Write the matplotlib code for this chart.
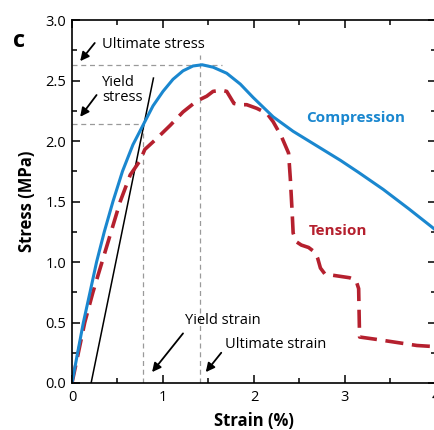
import matplotlib
matplotlib.use("Agg")
import matplotlib.pyplot as plt
from matplotlib.ticker import MultipleLocator

plt.rcParams['font.family'] = ['Open Sans', 'DejaVu Sans']

# Data
comp_strain = [0, 0.062, 0.125, 0.198, 0.27, 0.355, 0.45, 0.555, 0.67, 0.78, 0.89,
               1.0, 1.11, 1.22, 1.33, 1.43, 1.55, 1.70, 1.85, 1.99, 2.10, 2.21,
               2.32, 2.43, 2.56, 2.69, 2.82, 2.95, 3.15, 3.42, 3.70, 3.97, 4.0]
comp_stress = [0, 0.25, 0.5, 0.75, 1.0, 1.25, 1.5, 1.75, 1.97, 2.13, 2.29,
               2.41, 2.51, 2.58, 2.62, 2.63, 2.61, 2.56, 2.47, 2.36, 2.28, 2.20,
               2.14, 2.08, 2.02, 1.96, 1.90, 1.84, 1.74, 1.60, 1.44, 1.28, 1.26]

tens_strain = [0, 0.07, 0.14, 0.23, 0.33, 0.43, 0.53, 0.64, 0.75, 0.80, 0.93,
               1.08, 1.22, 1.37, 1.48, 1.55, 1.64, 1.70, 1.74, 1.78, 1.85, 1.92,
               2.03, 2.14, 2.21, 2.30, 2.38, 2.40, 2.42, 2.43, 2.46, 2.52, 2.60,
               2.67, 2.70, 2.73, 2.78, 2.87, 3.05, 3.12, 3.15, 3.16, 3.35, 3.79, 4.0]
tens_stress = [0, 0.25, 0.5, 0.75, 1.0, 1.25, 1.5, 1.72, 1.84, 1.93, 2.02,
               2.13, 2.24, 2.33, 2.37, 2.41, 2.42, 2.41, 2.36, 2.31, 2.30, 2.30,
               2.27, 2.23, 2.16, 2.04, 1.90, 1.68, 1.40, 1.24, 1.17, 1.14, 1.12,
               1.08, 1.03, 0.95, 0.90, 0.89, 0.87, 0.85, 0.78, 0.38, 0.36, 0.31, 0.30]

offset_strain = [0.21, 0.895]
offset_stress = [0.0, 2.52]

yield_strain = 0.78
yield_stress = 2.14
ult_strain = 1.41
ult_stress = 2.63

blue = '#1a87cf'
red = '#b5202e'

fig = plt.figure(figsize=(4.35, 4.30), dpi=100)
ax = fig.add_axes([72/435, 47/430, 364/435, 363/430])

# guide lines
gcol = '#9a9a9a'
ax.plot([0, yield_strain], [yield_stress, yield_stress], ls=(0, (4, 3)), color=gcol, lw=0.9)
ax.plot([yield_strain, yield_strain], [0, yield_stress], ls=(0, (4, 3)), color=gcol, lw=0.9)
ax.plot([0, 1.65], [ult_stress, ult_stress], ls=(0, (4, 3)), color=gcol, lw=0.9)
ax.plot([ult_strain, ult_strain], [0, 2.71], ls=(0, (4, 3)), color=gcol, lw=0.9)

ax.plot(offset_strain, offset_stress, color='black', lw=1.1)
ax.plot(tens_strain, tens_stress, color=red, lw=2.6, ls=(0, (5.0, 2.4)),
        solid_joinstyle='round', dash_capstyle='butt')
ax.plot(comp_strain, comp_stress, color=blue, lw=2.2, solid_joinstyle='round')

ax.set_xlim(0, 4)
ax.set_ylim(0, 3)
ax.xaxis.set_minor_locator(MultipleLocator(0.5))
ax.yaxis.set_minor_locator(MultipleLocator(0.25))
ax.set_xticks([0, 1, 2, 3, 4])
ax.set_xticklabels(['0', '1', '2', '3', '4'])
ax.set_yticks([0, 0.5, 1.0, 1.5, 2.0, 2.5, 3.0])
ax.set_yticklabels(['0.0', '0.5', '1.0', '1.5', '2.0', '2.5', '3.0'])
ax.tick_params(which='both', direction='in', top=True, right=True, width=1.1,
               labelsize=10.5)
ax.tick_params(axis='x', pad=5)
ax.tick_params(axis='y', pad=4)
ax.tick_params(which='major', length=6)
ax.tick_params(which='minor', length=3.5)
for s in ax.spines.values():
    s.set_linewidth(1.2)

ax.set_xlabel('Strain (%)', fontsize=12, fontweight='bold', labelpad=5)
ax.set_ylabel('Stress (MPa)', fontsize=12, fontweight='bold', labelpad=7)

ax.text(3.12, 2.19, 'Compression', color=blue, fontsize=11, fontweight='bold',
        ha='center', va='center')
ax.text(2.92, 1.26, 'Tension', color=red, fontsize=11, fontweight='bold',
        ha='center', va='center')

ap = dict(arrowstyle='-|>', color='black', lw=1.3, mutation_scale=13, shrinkA=0, shrinkB=0)
ax.annotate('', xy=(0.09, 2.66), xytext=(0.25, 2.81), arrowprops=ap)
ax.text(0.33, 2.80, 'Ultimate stress', fontsize=10.5, ha='left', va='center')
ax.annotate('', xy=(0.09, 2.20), xytext=(0.27, 2.38), arrowprops=ap)
ax.text(0.33, 2.42, 'Yield\nstress', fontsize=10.5, ha='left', va='center', linespacing=1.05)
ax.annotate('', xy=(0.88, 0.09), xytext=(1.22, 0.41), arrowprops=ap)
ax.text(1.24, 0.52, 'Yield strain', fontsize=10.5, ha='left', va='center')
ax.annotate('', xy=(1.47, 0.09), xytext=(1.64, 0.25), arrowprops=ap)
ax.text(1.68, 0.32, 'Ultimate strain', fontsize=10.5, ha='left', va='center')

fig.text(19/435, 1 - 41/430, 'c', fontsize=17, fontweight='bold', ha='center', va='center')

fig.savefig('out.png', dpi=100)
